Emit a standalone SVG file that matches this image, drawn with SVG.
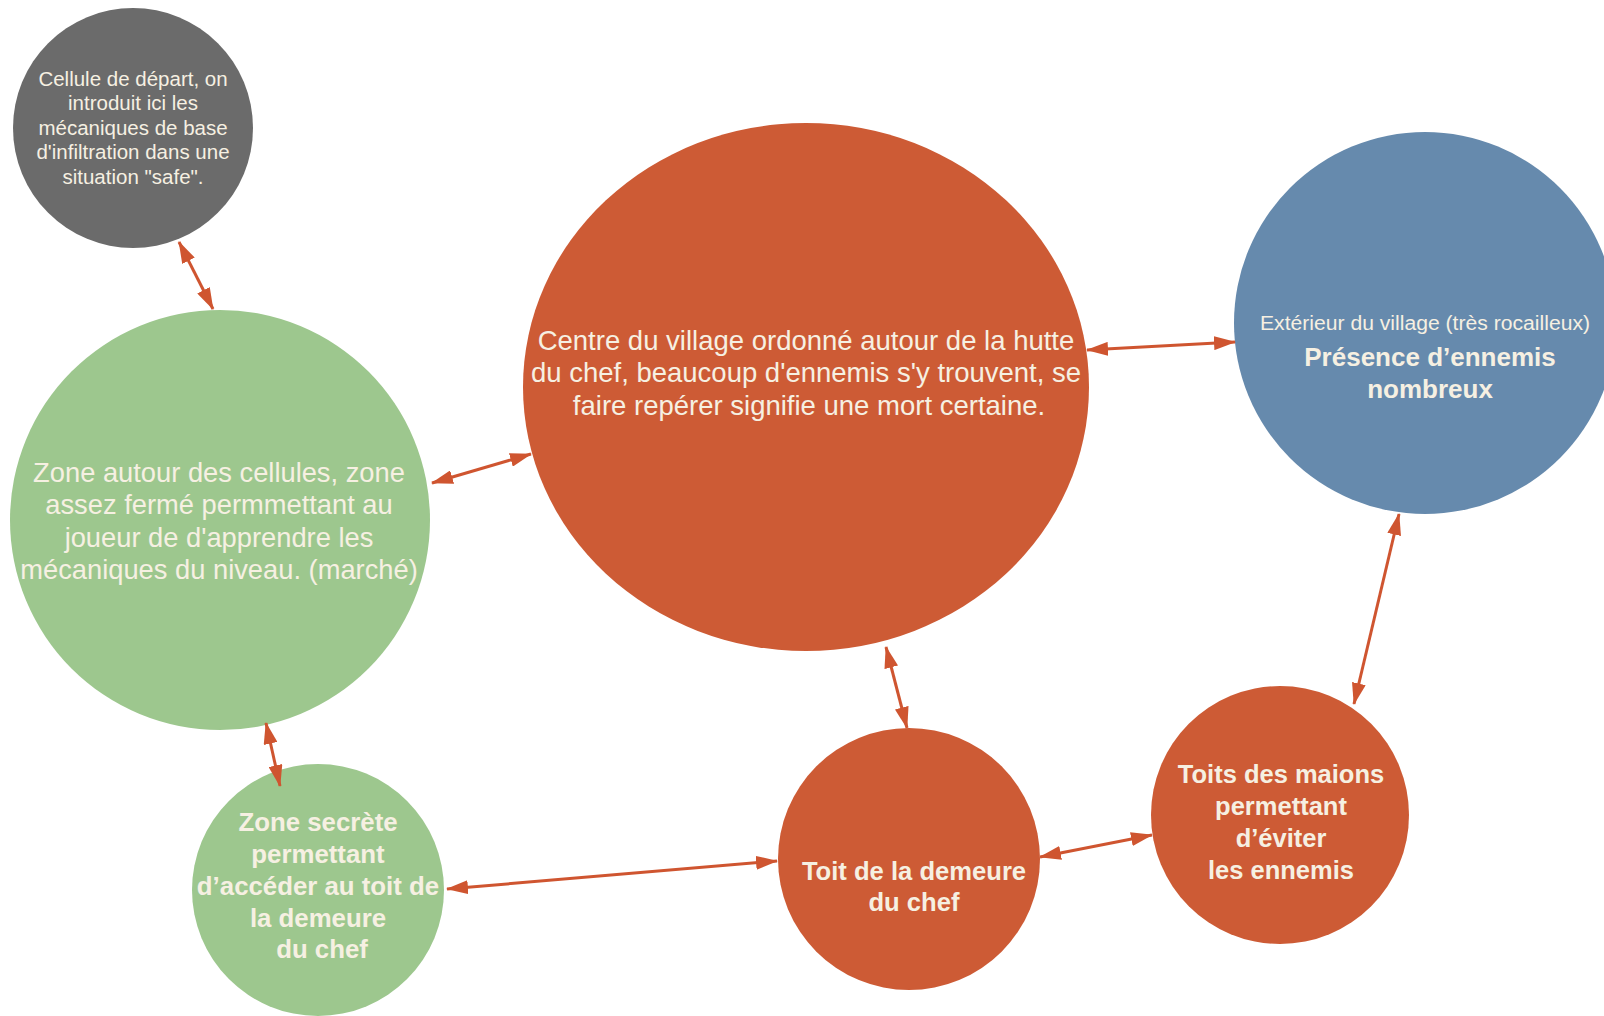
<svg xmlns="http://www.w3.org/2000/svg" width="1604" height="1016" viewBox="0 0 1604 1016">
<style>
.t{font-family:"Liberation Sans",Arial,sans-serif;fill:#F6F0E2;text-anchor:middle}
.b{font-weight:bold}
.orange{fill:#CD5B35}
.green{fill:#9DC78E}
.grey{fill:#6B6B6B}
.blue{fill:#668AAD}
.c{stroke:#CF5530;stroke-width:3;fill:none;marker-start:url(#ah);marker-end:url(#ah)}
</style>
<defs>
<marker id="ah" viewBox="0 0 22 14" refX="21" refY="7" markerWidth="22" markerHeight="14" markerUnits="userSpaceOnUse" orient="auto-start-reverse">
<path d="M0,0 L22,7 L0,14 z" fill="#CF5530"/>
</marker>
</defs>
<rect width="1604" height="1016" fill="#FFFFFF"/>

<g id="node-depart">
<circle class="grey" cx="133" cy="128" r="120"/>
<text class="t" font-size="20.5"><tspan x="133" y="86">Cellule de départ, on</tspan><tspan x="133" y="110">introduit ici les</tspan><tspan x="133" y="135">mécaniques de base</tspan><tspan x="133" y="159">d'infiltration dans une</tspan><tspan x="133" y="184">situation "safe".</tspan></text>
</g>

<g id="node-zone-cellules">
<circle class="green" cx="220" cy="520" r="210"/>
<text class="t" font-size="27.3"><tspan x="219" y="482">Zone autour des cellules, zone</tspan><tspan x="219" y="514">assez fermé permmettant au</tspan><tspan x="219" y="547">joueur de d'apprendre les</tspan><tspan x="219" y="579">mécaniques du niveau. (marché)</tspan></text>
</g>

<g id="node-centre">
<ellipse class="orange" cx="806" cy="387" rx="283" ry="264"/>
<text class="t" font-size="27.5"><tspan x="806" y="350">Centre du village ordonné autour de la hutte</tspan><tspan x="806" y="382">du chef, beaucoup d'ennemis s'y trouvent, se</tspan><tspan x="809" y="415">faire repérer signifie une mort certaine.</tspan></text>
</g>

<g id="node-exterieur">
<circle class="blue" cx="1425" cy="323" r="191"/>
<text class="t" font-size="20" textLength="330" lengthAdjust="spacingAndGlyphs" x="1425" y="330">Extérieur du village (très rocailleux)</text>
<text class="t b" font-size="26"><tspan x="1430" y="366">Présence d’ennemis</tspan><tspan x="1430" y="398">nombreux</tspan></text>
</g>

<g id="node-toit-demeure">
<circle class="orange" cx="909" cy="859" r="131"/>
<text class="t b" font-size="25.6"><tspan x="914" y="880">Toit de la demeure</tspan><tspan x="914" y="911">du chef</tspan></text>
</g>

<g id="node-toits-maisons">
<circle class="orange" cx="1280" cy="815" r="129"/>
<text class="t b" font-size="25.5"><tspan x="1281" y="783">Toits des maions</tspan><tspan x="1281" y="815">permettant</tspan><tspan x="1281" y="847">d’éviter</tspan><tspan x="1281" y="879">les ennemis</tspan></text>
</g>

<g id="node-zone-secrete">
<circle class="green" cx="318" cy="890" r="126"/>
<text class="t b" font-size="25.8"><tspan x="318" y="831">Zone secrète</tspan><tspan x="318" y="863">permettant</tspan><tspan x="318" y="895">d’accéder au toit de</tspan><tspan x="318" y="927">la demeure</tspan><tspan x="322" y="958">du chef</tspan></text>
</g>

<g id="connectors">
<line class="c" x1="179" y1="242" x2="213" y2="309"/>
<line class="c" x1="432" y1="483" x2="531" y2="454"/>
<line class="c" x1="1087" y1="350" x2="1235" y2="342"/>
<line class="c" x1="886" y1="647" x2="907" y2="728"/>
<line class="c" x1="1399" y1="514" x2="1354" y2="704"/>
<line class="c" x1="1040" y1="857" x2="1152" y2="835"/>
<line class="c" x1="447" y1="889" x2="777" y2="861"/>
<line class="c" x1="266" y1="723" x2="280" y2="786"/>
</g>
</svg>
